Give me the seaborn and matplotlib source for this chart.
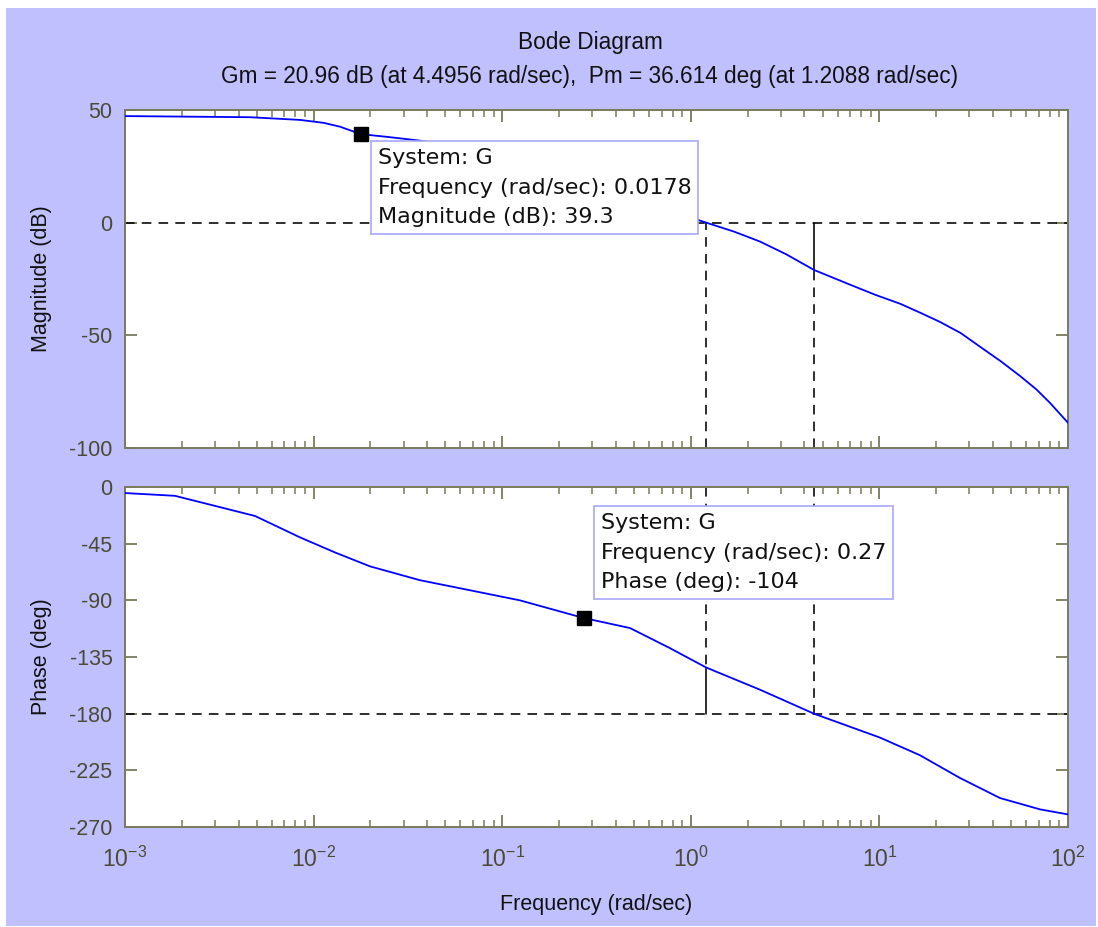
import numpy as np
import pandas as pd
import matplotlib
matplotlib.use("Agg")
import matplotlib.pyplot as plt
from matplotlib.patches import Rectangle
import seaborn as sns

# ---- data ----
mag_freq = [0.001, 0.0025, 0.0046, 0.00847, 0.0113, 0.0138, 0.0178, 0.025, 0.0366, 0.06, 0.1,
            0.2, 0.35, 0.6, 0.9, 1.2088, 1.7, 2.33, 3.2, 4.4956, 6.98, 9.5, 12.9, 16.5, 20.9,
            27.0, 34.1, 44.0, 55.6, 68.0, 80.3, 100.0]
mag_db = [47.3, 47.0, 46.8, 45.6, 44.3, 42.6, 39.3, 38.0, 36.4, 33.5, 29.5,
          22.0, 15.0, 8.5, 3.5, 0.0, -4.0, -8.4, -14.0, -20.96, -27.5, -32.0, -36.0, -40.0, -44.0,
          -49.0, -55.0, -61.5, -68.0, -74.0, -80.0, -88.8]

ph_freq = [0.001, 0.00184, 0.0030, 0.00489, 0.00847, 0.0130, 0.0199, 0.0366, 0.0675, 0.124,
           0.27, 0.476, 0.776, 1.2088, 2.33, 4.4956, 10.07, 16.4, 26.7, 43.6, 71.1, 100.0]
ph_deg = [-4.8, -7.0, -15.0, -23.0, -40.0, -52.0, -63.0, -74.0, -82.0, -90.0,
          -104.0, -112.0, -128.0, -143.4, -161.0, -180.0, -199.0, -213.0, -231.0, -247.0, -256.0, -260.0]

gm_freq, gm_db = 4.4956, -20.96
pm_freq, pm_phase = 1.2088, -143.386

tip_mag = (0.0178, 39.3)
tip_ph = (0.27, -104)

title1 = "Bode Diagram"
title2 = "Gm = 20.96 dB (at 4.4956 rad/sec),  Pm = 36.614 deg (at 1.2088 rad/sec)"
mag_ticks = [50, 0, -50, -100]
ph_ticks = [0, -45, -90, -135, -180, -225, -270]
x_ticks = [1e-3, 1e-2, 1e-1, 1e0, 1e1, 1e2]
x_labels = [r"$10^{-3}$", r"$10^{-2}$", r"$10^{-1}$", r"$10^{0}$", r"$10^{1}$", r"$10^{2}$"]

sns.set_theme(style="ticks")
plt.rcParams['font.family'] = ['Liberation Sans', 'DejaVu Sans']
plt.rcParams['mathtext.fontset'] = 'custom'
plt.rcParams['mathtext.rm'] = 'Liberation Sans'
plt.rcParams['mathtext.it'] = 'Liberation Sans'
plt.rcParams['axes.unicode_minus'] = False

BG = "#c0c0ff"
AXC = "#7a7a5c"
TXT = "#4a4a36"
FS = 15.5

W, H = 1098, 927
fig = plt.figure(figsize=(W / 100, H / 100), dpi=100, facecolor="white")
fig.patches.append(Rectangle((6 / W, 1 - 926 / H), (1096 - 6) / W, (926 - 8) / H,
                             transform=fig.transFigure, facecolor=BG, edgecolor="none", zorder=-10))

ax1 = fig.add_axes([125 / W, 1 - 448 / H, 943 / W, 338 / H])
ax2 = fig.add_axes([125 / W, 1 - 827 / H, 943 / W, 340 / H])

df_mag = pd.DataFrame({"freq": mag_freq, "mag": mag_db})
df_ph = pd.DataFrame({"freq": ph_freq, "phase": ph_deg})

for ax in (ax1, ax2):
    ax.set_facecolor("white")
    ax.set_xscale("log")

sns.lineplot(data=df_mag, x="freq", y="mag", ax=ax1, color="#0000ff", linewidth=1.3, zorder=3)
sns.lineplot(data=df_ph, x="freq", y="phase", ax=ax2, color="#0000ff", linewidth=1.3, zorder=3)

dash = dict(color="black", linestyle=(0, (6, 4.5)), linewidth=1.15, zorder=2)
solid = dict(color="black", linestyle="-", linewidth=1.15, zorder=2)

# magnitude panel margins
ax1.axhline(0, **dash)
ax1.plot([pm_freq, pm_freq], [-100, 0], **dash)
ax1.plot([gm_freq, gm_freq], [-100, gm_db], **dash)
ax1.plot([gm_freq, gm_freq], [gm_db, 0], **solid)
# phase panel margins
ax2.axhline(-180, **dash)
ax2.plot([gm_freq, gm_freq], [0, -180], **dash)
ax2.plot([pm_freq, pm_freq], [0, pm_phase], **dash)
ax2.plot([pm_freq, pm_freq], [pm_phase, -180], **solid)

# data tip markers
ax1.plot([tip_mag[0]], [tip_mag[1]], marker="s", markersize=10, color="black", zorder=5)
ax2.plot([tip_ph[0]], [tip_ph[1]], marker="s", markersize=10, color="black", zorder=5)

boxprops = dict(boxstyle="square,pad=0.3", facecolor="white", edgecolor="#a8a8ff", linewidth=1.2)
tipfont = dict(fontsize=16, family="DejaVu Sans", color="#111111", linespacing=1.6)
fig.text(378 / W, 1 - 148 / H,
         f"System: G\nFrequency (rad/sec): {tip_mag[0]}\nMagnitude (dB): {tip_mag[1]}",
         ha="left", va="top", bbox=boxprops, zorder=6, **tipfont)
fig.text(601 / W, 1 - 513 / H,
         f"System: G\nFrequency (rad/sec): {tip_ph[0]}\nPhase (deg): {tip_ph[1]}",
         ha="left", va="top", bbox=boxprops, zorder=6, **tipfont)

ax1.set_ylim(-100, 50)
ax1.set_yticks(mag_ticks)
ax2.set_ylim(-270, 0)
ax2.set_yticks(ph_ticks)

for ax in (ax1, ax2):
    ax.set_xlim(1e-3, 1e2)
    ax.set_xticks(x_ticks)
    for s in ax.spines.values():
        s.set_color(AXC)
        s.set_linewidth(1.4)
        s.set_visible(True)
    ax.tick_params(which="both", direction="in", top=True, right=True, color=AXC,
                   labelcolor=TXT, labelsize=FS)
    ax.tick_params(which="major", length=8.5, width=1.3)
    ax.tick_params(which="minor", length=5, width=1.1)
    ax.tick_params(axis="y", pad=9)
    ax.grid(False)

ax1.set_xticklabels([])
ax1.tick_params(axis="x", which="both", labelbottom=False)
ax2.set_xticklabels(x_labels)
ax2.tick_params(axis="x", pad=14, labelsize=FS + 1)

ax1.set_xlabel("")
ax1.set_ylabel("Magnitude (dB)", fontsize=FS, color="#111111", labelpad=12)
ax2.set_ylabel("Phase (deg)", fontsize=FS, color="#111111", labelpad=12)
ax2.set_xlabel("Frequency (rad/sec)", fontsize=FS, color="#111111", labelpad=16)

fig.text(590 / W, 1 - 43 / H, title1, ha="center", va="center", fontsize=16.3, color="#111111")
fig.text(590 / W, 1 - 77 / H, title2, ha="center", va="center", fontsize=16.3, color="#111111")

fig.savefig("out.png", dpi=100, facecolor="white")
